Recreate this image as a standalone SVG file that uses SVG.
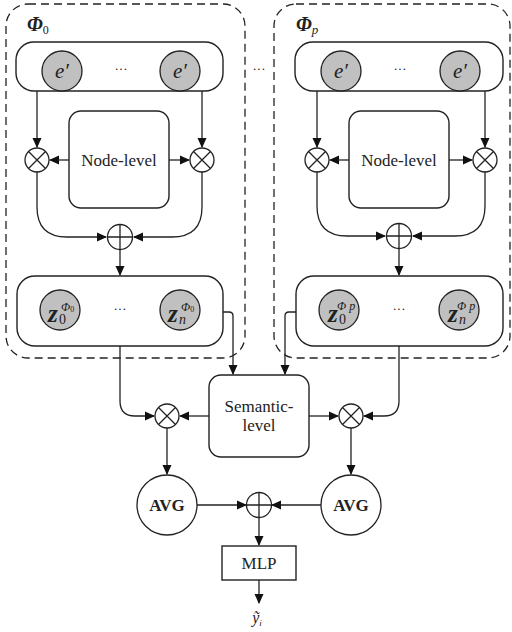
<svg xmlns="http://www.w3.org/2000/svg" width="512" height="632" viewBox="0 0 512 632" font-family="'Liberation Serif','Times New Roman',serif">
<style>
.dash{fill:none;stroke:#222;stroke-width:1.3;stroke-dasharray:8 5}
.box{fill:#fff;stroke:#222;stroke-width:1.4}
.ln{fill:none;stroke:#222;stroke-width:1.3}
.emb{fill:#c0c0c0;stroke:#222;stroke-width:1.3}
.op{fill:#fff;stroke:#222;stroke-width:1.3}
text{font-family:"Liberation Serif","Times New Roman",serif;fill:#222}
.t{font-size:17px;text-anchor:middle}
.it{font-style:italic}
.dots{font-size:13px;text-anchor:middle}
.z{font-size:25px;font-weight:bold;font-style:italic}
.sub{font-size:14px;font-weight:normal;font-style:normal}
.subi{font-size:14px;font-weight:normal;font-style:italic}
.sup{font-size:12px;font-style:italic}
</style>
<defs>
<marker id="ah" markerWidth="10" markerHeight="10" refX="9" refY="5" orient="auto" markerUnits="userSpaceOnUse">
<path d="M0,0.5 L10,5 L0,9.5 Z" fill="#111"/>
</marker>
<g id="otimes"><circle r="12" class="op"/><path d="M-8.5,-8.5 L8.5,8.5 M8.5,-8.5 L-8.5,8.5" class="ln"/></g>
<g id="oplus"><circle r="12.5" class="op"/><path d="M-12.5,0 L12.5,0 M0,-12.5 L0,12.5" class="ln"/></g>
</defs>

<g id="meta0">
<rect x="6" y="4" width="239" height="354" rx="22" class="dash"/>
<text x="27" y="31" font-size="20" font-style="italic" font-weight="bold">Φ<tspan font-size="12" font-weight="normal" font-style="normal" dy="3">0</tspan></text>
</g>
<g id="metaP">
<rect x="274" y="4" width="236" height="354" rx="22" class="dash"/>
<text x="296" y="31" font-size="20" font-style="italic" font-weight="bold">Φ<tspan font-size="13" font-weight="normal" dy="3">p</tspan></text>
</g>
<text x="259" y="73" class="dots">···</text>

<g id="input0">
<rect x="16" y="42" width="207" height="49" rx="18" class="box"/>
<circle cx="62" cy="71" r="20" class="emb"/><text x="62" y="78" font-size="21" class="it" text-anchor="middle">e′</text>
<circle cx="180" cy="71" r="20" class="emb"/><text x="180" y="78" font-size="21" class="it" text-anchor="middle">e′</text>
<text x="121" y="73" class="dots">···</text>
</g>
<g id="input1">
<rect x="295" y="42" width="208" height="49" rx="18" class="box"/>
<circle cx="341" cy="71" r="20" class="emb"/><text x="341" y="78" font-size="21" class="it" text-anchor="middle">e′</text>
<circle cx="460" cy="71" r="20" class="emb"/><text x="460" y="78" font-size="21" class="it" text-anchor="middle">e′</text>
<text x="400" y="73" class="dots">···</text>
</g>

<g id="nodelevel0"><rect x="69" y="111" width="100" height="97" rx="12" class="box"/><text x="119" y="166" class="t">Node-level</text></g>
<g id="nodelevel1"><rect x="349" y="111" width="100" height="97" rx="12" class="box"/><text x="399" y="166" class="t">Node-level</text></g>

<g id="mul0a" transform="translate(37,160)"><use href="#otimes"/></g>
<g id="mul0b" transform="translate(202,160)"><use href="#otimes"/></g>
<g id="mul1a" transform="translate(317,160)"><use href="#otimes"/></g>
<g id="mul1b" transform="translate(485,160)"><use href="#otimes"/></g>
<g id="add0" transform="translate(120,237)"><use href="#oplus"/></g>
<g id="add1" transform="translate(399,236)"><use href="#oplus"/></g>

<g id="out0">
<rect x="17" y="276" width="206" height="70" rx="18" class="box"/>
<circle cx="60" cy="310" r="20" class="emb"/>
<text x="48" y="322" class="z">z</text><text x="59" y="324" class="sub">0</text>
<text x="61" y="311" class="sup">Φ<tspan font-size="8" font-style="normal" dy="1">0</tspan></text>
<circle cx="180" cy="310" r="20" class="emb"/>
<text x="168" y="322" class="z">z</text><text x="179" y="324" class="subi">n</text>
<text x="181" y="311" class="sup">Φ<tspan font-size="8" font-style="normal" dy="1">0</tspan></text>
<text x="120" y="313" class="dots">···</text>
</g>
<g id="out1">
<rect x="296" y="276" width="207" height="70" rx="18" class="box"/>
<circle cx="339" cy="310" r="20" class="emb"/>
<text x="328" y="322" class="z">z</text><text x="339" y="324" class="sub">0</text>
<text x="337" y="310" class="sup" font-size="13">Φ p</text>
<circle cx="459" cy="310" r="20" class="emb"/>
<text x="448" y="322" class="z">z</text><text x="459" y="324" class="subi">n</text>
<text x="457" y="310" class="sup" font-size="13">Φ p</text>
<text x="399" y="313" class="dots">···</text>
</g>

<g id="semantic"><rect x="209" y="375" width="100" height="82" rx="12" class="box"/>
<text x="259" y="412" class="t">Semantic-</text><text x="259" y="431" class="t">level</text></g>

<g id="mulS0" transform="translate(167,416)"><use href="#otimes"/></g>
<g id="mulS1" transform="translate(351,416)"><use href="#otimes"/></g>

<g id="avg0"><circle cx="167" cy="505" r="30" class="op"/><text x="167" y="511" class="t" font-weight="bold">AVG</text></g>
<g id="avg1"><circle cx="351" cy="505" r="30" class="op"/><text x="351" y="511" class="t" font-weight="bold">AVG</text></g>
<g id="addF" transform="translate(259,505)"><use href="#oplus"/></g>

<g id="mlp"><rect x="222" y="546" width="74" height="34" class="box"/><text x="259" y="569" class="t">MLP</text></g>
<g id="yhat"><text x="257" y="623" font-size="16" font-style="italic" text-anchor="middle">ỹ<tspan font-size="9" dy="3">i</tspan></text></g>

<g id="connectors" class="ln">
<path d="M37,91 V147" marker-end="url(#ah)"/>
<path d="M202,91 V147" marker-end="url(#ah)"/>
<path d="M317,91 V147" marker-end="url(#ah)"/>
<path d="M485,91 V147" marker-end="url(#ah)"/>
<path d="M69,160 H50" marker-end="url(#ah)"/>
<path d="M169,160 H189" marker-end="url(#ah)"/>
<path d="M349,160 H330" marker-end="url(#ah)"/>
<path d="M449,160 H472" marker-end="url(#ah)"/>
<path d="M37,172 V207 Q37,237 67,237 H106" marker-end="url(#ah)"/>
<path d="M202,172 V207 Q202,237 172,237 H134" marker-end="url(#ah)"/>
<path d="M317,172 V206 Q317,236 347,236 H385" marker-end="url(#ah)"/>
<path d="M485,172 V206 Q485,236 455,236 H413" marker-end="url(#ah)"/>
<path d="M120,250 V275" marker-end="url(#ah)"/>
<path d="M399,249 V275" marker-end="url(#ah)"/>
<path d="M223,312 H229 Q233,312 233,316 V374" marker-end="url(#ah)"/>
<path d="M296,312 H289 Q285,312 285,316 V374" marker-end="url(#ah)"/>
<path d="M120,346 V401 Q120,416 135,416 H154" marker-end="url(#ah)"/>
<path d="M399,346 V401 Q399,416 384,416 H364" marker-end="url(#ah)"/>
<path d="M209,416 H180" marker-end="url(#ah)"/>
<path d="M309,416 H338" marker-end="url(#ah)"/>
<path d="M167,428 V474" marker-end="url(#ah)"/>
<path d="M351,428 V474" marker-end="url(#ah)"/>
<path d="M197,505 H246" marker-end="url(#ah)"/>
<path d="M321,505 H272" marker-end="url(#ah)"/>
<path d="M259,518 V545" marker-end="url(#ah)"/>
<path d="M259,580 V603" marker-end="url(#ah)"/>
</g>
</svg>
